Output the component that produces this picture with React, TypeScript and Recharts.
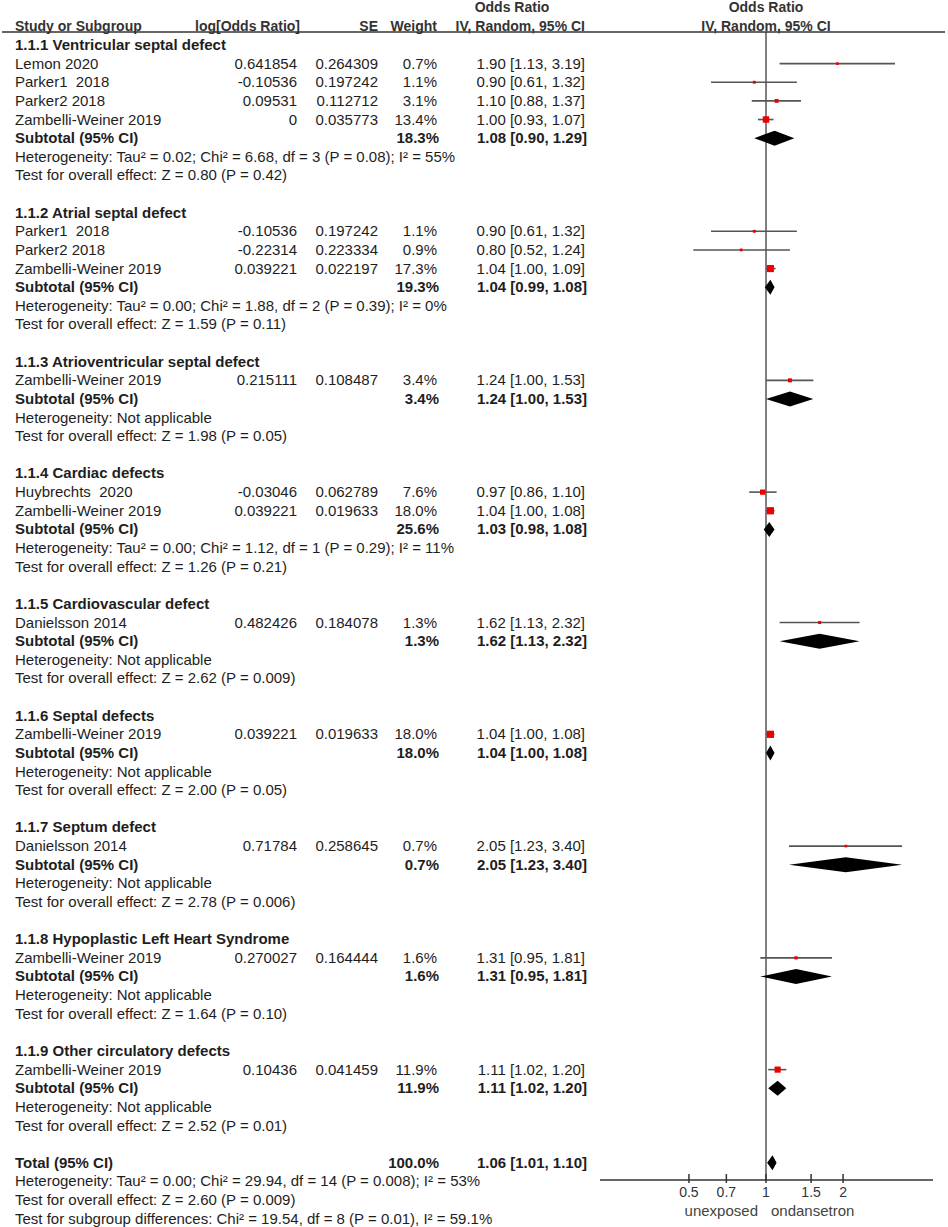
import React from 'react';
import { ComposedChart, XAxis, YAxis, Scatter, ErrorBar, ReferenceLine } from 'recharts';

// subgroups
const subgroupTitles = [
  '1.1.1 Ventricular septal defect',
  '1.1.2 Atrial septal defect',
  '1.1.3 Atrioventricular septal defect',
  '1.1.4 Cardiac defects',
  '1.1.5 Cardiovascular defect',
  '1.1.6 Septal defects',
  '1.1.7 Septum defect',
  '1.1.8 Hypoplastic Left Heart Syndrome',
  '1.1.9 Other circulatory defects',
];

// studies
const studyGroup = [0, 0, 0, 0, 1, 1, 1, 2, 3, 3, 4, 5, 6, 7, 8];
const studyNames = [
  'Lemon 2020', 'Parker1  2018', 'Parker2 2018', 'Zambelli-Weiner 2019',
  'Parker1  2018', 'Parker2 2018', 'Zambelli-Weiner 2019',
  'Zambelli-Weiner 2019',
  'Huybrechts  2020', 'Zambelli-Weiner 2019',
  'Danielsson 2014',
  'Zambelli-Weiner 2019',
  'Danielsson 2014',
  'Zambelli-Weiner 2019',
  'Zambelli-Weiner 2019',
];
const studyLogOR = [0.641854, -0.10536, 0.09531, 0, -0.10536, -0.22314, 0.039221, 0.215111, -0.03046, 0.039221, 0.482426, 0.039221, 0.71784, 0.270027, 0.10436];
const studySE = [0.264309, 0.197242, 0.112712, 0.035773, 0.197242, 0.223334, 0.022197, 0.108487, 0.062789, 0.019633, 0.184078, 0.019633, 0.258645, 0.164444, 0.041459];
const studyWeight = [0.7, 1.1, 3.1, 13.4, 1.1, 0.9, 17.3, 3.4, 7.6, 18.0, 1.3, 18.0, 0.7, 1.6, 11.9];
const studyOR = [1.90, 0.90, 1.10, 1.00, 0.90, 0.80, 1.04, 1.24, 0.97, 1.04, 1.62, 1.04, 2.05, 1.31, 1.11];
const studyLow = [1.13, 0.61, 0.88, 0.93, 0.61, 0.52, 1.00, 1.00, 0.86, 1.00, 1.13, 1.00, 1.23, 0.95, 1.02];
const studyHigh = [3.19, 1.32, 1.37, 1.07, 1.32, 1.24, 1.09, 1.53, 1.10, 1.08, 2.32, 1.08, 3.40, 1.81, 1.20];

// subtotals
const subtotalWeight = [18.3, 19.3, 3.4, 25.6, 1.3, 18.0, 0.7, 1.6, 11.9];
const subtotalOR = [1.08, 1.04, 1.24, 1.03, 1.62, 1.04, 2.05, 1.31, 1.11];
const subtotalLow = [0.90, 0.99, 1.00, 0.98, 1.13, 1.00, 1.23, 0.95, 1.02];
const subtotalHigh = [1.29, 1.08, 1.53, 1.08, 2.32, 1.08, 3.40, 1.81, 1.20];
const heterogeneity = [
  'Heterogeneity: Tau² = 0.02; Chi² = 6.68, df = 3 (P = 0.08); I² = 55%',
  'Heterogeneity: Tau² = 0.00; Chi² = 1.88, df = 2 (P = 0.39); I² = 0%',
  'Heterogeneity: Not applicable',
  'Heterogeneity: Tau² = 0.00; Chi² = 1.12, df = 1 (P = 0.29); I² = 11%',
  'Heterogeneity: Not applicable',
  'Heterogeneity: Not applicable',
  'Heterogeneity: Not applicable',
  'Heterogeneity: Not applicable',
  'Heterogeneity: Not applicable',
];
const overallEffect = [
  'Test for overall effect: Z = 0.80 (P = 0.42)',
  'Test for overall effect: Z = 1.59 (P = 0.11)',
  'Test for overall effect: Z = 1.98 (P = 0.05)',
  'Test for overall effect: Z = 1.26 (P = 0.21)',
  'Test for overall effect: Z = 2.62 (P = 0.009)',
  'Test for overall effect: Z = 2.00 (P = 0.05)',
  'Test for overall effect: Z = 2.78 (P = 0.006)',
  'Test for overall effect: Z = 1.64 (P = 0.10)',
  'Test for overall effect: Z = 2.52 (P = 0.01)',
];

// overall
const totalWeight = 100.0;
const totalOR = 1.06;
const totalLow = 1.01;
const totalHigh = 1.10;
const totalNotes = [
  'Heterogeneity: Tau² = 0.00; Chi² = 29.94, df = 14 (P = 0.008); I² = 53%',
  'Test for overall effect: Z = 2.60 (P = 0.009)',
  'Test for subgroup differences: Chi² = 19.54, df = 8 (P = 0.01), I² = 59.1%',
];

const xTicks = [0.5, 0.7, 1, 1.5, 2];
const favoursLeft = 'unexposed';
const favoursRight = 'ondansetron';

const FONT = "'Liberation Sans', Arial, sans-serif";
const TEXT = '#1e1e1e';
const COL = { name: 15, logOR: 297, se: 378, weight: 437, ci: 585, ciHead: 512, plotMid: 766, ruleL: 2, ruleR: 945 };

const fmtCI = (o: number, l: number, h: number) => `${o.toFixed(2)} [${l.toFixed(2)}, ${h.toFixed(2)}]`;
const fmtW = (w: number) => `${w.toFixed(1)}%`;

type Row = { y: number; kind: string; label?: string; logOR?: string; se?: string; weight?: string; ci?: string };

const rows: Row[] = [
  { y: -2.04, kind: 'top' },
  { y: -1.03, kind: 'header' },
  { y: -0.698, kind: 'rule' },
];
const studyPoints: any[] = [];
const diamondPoints: any[] = [];

let r = 0;
subgroupTitles.forEach((title, g) => {
  rows.push({ y: r++, kind: 'group', label: title });
  studyNames.forEach((name, i) => {
    if (studyGroup[i] !== g) return;
    studyPoints.push({ x: studyOR[i], y: r, w: studyWeight[i], err: [studyOR[i] - studyLow[i], studyHigh[i] - studyOR[i]] });
    rows.push({
      y: r++, kind: 'study', label: name,
      logOR: String(studyLogOR[i]), se: String(studySE[i]),
      weight: fmtW(studyWeight[i]), ci: fmtCI(studyOR[i], studyLow[i], studyHigh[i]),
    });
  });
  diamondPoints.push({ x: subtotalLow[g], y: r }, { x: subtotalOR[g], y: r }, { x: subtotalHigh[g], y: r });
  rows.push({ y: r++, kind: 'subtotal', label: 'Subtotal (95% CI)', weight: fmtW(subtotalWeight[g]), ci: fmtCI(subtotalOR[g], subtotalLow[g], subtotalHigh[g]) });
  rows.push({ y: r++, kind: 'note', label: heterogeneity[g] });
  rows.push({ y: r++, kind: 'note', label: overallEffect[g] });
  r++;
});
diamondPoints.push({ x: totalLow, y: r }, { x: totalOR, y: r }, { x: totalHigh, y: r });
rows.push({ y: r++, kind: 'subtotal', label: 'Total (95% CI)', weight: fmtW(totalWeight), ci: fmtCI(totalOR, totalLow, totalHigh) });
totalNotes.forEach((t) => rows.push({ y: r++, kind: 'note', label: t }));

const rowByY = new Map(rows.map((row) => [row.y, row]));

const RowTick = (props: any) => {
  const { y, payload } = props;
  const row = rowByY.get(payload.value);
  if (!row) return null;
  const base = { fontFamily: FONT, fontSize: 15, fill: TEXT } as const;
  const by = y + 5;
  if (row.kind === 'rule') {
    return <line x1={COL.ruleL} x2={COL.ruleR} y1={y} y2={y} stroke="#333" strokeWidth={1.5} />;
  }
  if (row.kind === 'top' || row.kind === 'header') {
    const h = { fontFamily: FONT, fontSize: 14, fontWeight: 700, fill: '#333' } as const;
    if (row.kind === 'top') {
      return (
        <g>
          <text {...h} x={COL.ciHead} y={by} textAnchor="middle">Odds Ratio</text>
          <text {...h} x={COL.plotMid} y={by} textAnchor="middle">Odds Ratio</text>
        </g>
      );
    }
    return (
      <g>
        <text {...h} x={COL.name} y={by}>Study or Subgroup</text>
        <text {...h} x={COL.logOR + 3} y={by} textAnchor="end">log[Odds Ratio]</text>
        <text {...h} x={COL.se} y={by} textAnchor="end">SE</text>
        <text {...h} x={COL.weight} y={by} textAnchor="end">Weight</text>
        <text {...h} x={COL.ci} y={by} textAnchor="end">IV, Random, 95% CI</text>
        <text {...h} x={COL.plotMid} y={by} textAnchor="middle">IV, Random, 95% CI</text>
      </g>
    );
  }
  if (row.kind === 'group') {
    return <text {...base} fontWeight={700} x={COL.name} y={by}>{row.label}</text>;
  }
  if (row.kind === 'note') {
    return <text {...base} x={COL.name} y={by}>{row.label}</text>;
  }
  if (row.kind === 'subtotal') {
    return (
      <g>
        <text {...base} fontWeight={700} x={COL.name} y={by}>{row.label}</text>
        <text {...base} fontWeight={700} x={COL.weight + 2} y={by} textAnchor="end">{row.weight}</text>
        <text {...base} fontWeight={700} x={COL.ci + 2} y={by} textAnchor="end">{row.ci}</text>
      </g>
    );
  }
  return (
    <g>
      <text {...base} x={COL.name} y={by} style={{ whiteSpace: 'pre' }}>{row.label}</text>
      <text {...base} x={COL.logOR} y={by} textAnchor="end">{row.logOR}</text>
      <text {...base} x={COL.se} y={by} textAnchor="end">{row.se}</text>
      <text {...base} x={COL.weight} y={by} textAnchor="end">{row.weight}</text>
      <text {...base} x={COL.ci} y={by} textAnchor="end">{row.ci}</text>
    </g>
  );
};

const AxisTick = (props: any) => {
  const { x, y, payload } = props;
  const t = { fontFamily: FONT, fontSize: 14, fill: '#333' } as const;
  return (
    <g>
      <line x1={x} x2={x} y1={y - 6} y2={y + 3} stroke="#333" strokeWidth={1.5} />
      <text {...t} x={x} y={y + 17} textAnchor="middle">{String(payload.value)}</text>
      {payload.value === 1 && (
        <g>
          <text {...t} fontSize={15} fill="#444" x={x - 8} y={y + 36} textAnchor="end">{favoursLeft}</text>
          <text {...t} fontSize={15} fill="#444" x={x + 5} y={y + 36} textAnchor="start">{favoursRight}</text>
        </g>
      )}
    </g>
  );
};

const StudySquare = (props: any) => {
  const { cx, cy, payload } = props;
  const s = 1.5 + 1.35 * Math.sqrt(payload.w);
  return <rect x={cx - s / 2} y={cy - s / 2} width={s} height={s} fill="#ee0000" />;
};

const DIAMOND_HALF = 7.5;
const drawDiamonds = (props: any) => {
  const pts = props.points || [];
  const polys: React.ReactNode[] = [];
  for (let i = 0; i + 2 < pts.length; i += 3) {
    const lo = pts[i];
    const mid = pts[i + 1];
    const hi = pts[i + 2];
    polys.push(
      <polygon
        key={i}
        points={`${lo.x},${lo.y} ${mid.x},${mid.y - DIAMOND_HALF} ${hi.x},${hi.y} ${mid.x},${mid.y + DIAMOND_HALF}`}
        fill="#000"
      />
    );
  }
  return <g>{polys}</g>;
};

export default function App() {
  return (
    <div style={{ position: 'absolute', left: 0, top: 0, width: 948, height: 1227, background: '#fff' }}>
      <ComposedChart width={948} height={1227} margin={{ top: 32, right: 15, bottom: 0, left: 0 }}>
        <XAxis
          type="number"
          dataKey="x"
          scale="log"
          domain={[0.2247, 4.49]}
          allowDataOverflow
          ticks={xTicks}
          interval={0}
          height={47}
          tickSize={0}
          tickMargin={0}
          tickLine={false}
          axisLine={{ stroke: '#333', strokeWidth: 1.5 }}
          tick={<AxisTick />}
        />
        <YAxis
          type="number"
          dataKey="y"
          reversed
          domain={[-0.698, 60.924]}
          allowDataOverflow
          width={600}
          ticks={rows.map((row) => row.y)}
          interval={0}
          axisLine={false}
          tickLine={false}
          tick={(p: any) => <RowTick {...p} />}
        />
        <ReferenceLine x={1} stroke="#808080" strokeWidth={2} />
        <Scatter data={studyPoints} shape={(p: any) => <StudySquare {...p} />} isAnimationActive={false}>
          <ErrorBar dataKey="err" direction="x" width={0} stroke="#555" strokeWidth={1.6} isAnimationActive={false} />
        </Scatter>
        <Scatter
          data={diamondPoints}
          shape={() => <g />}
          line={drawDiamonds}
          lineType="joint"
          isAnimationActive={false}
        />
      </ComposedChart>
    </div>
  );
}
